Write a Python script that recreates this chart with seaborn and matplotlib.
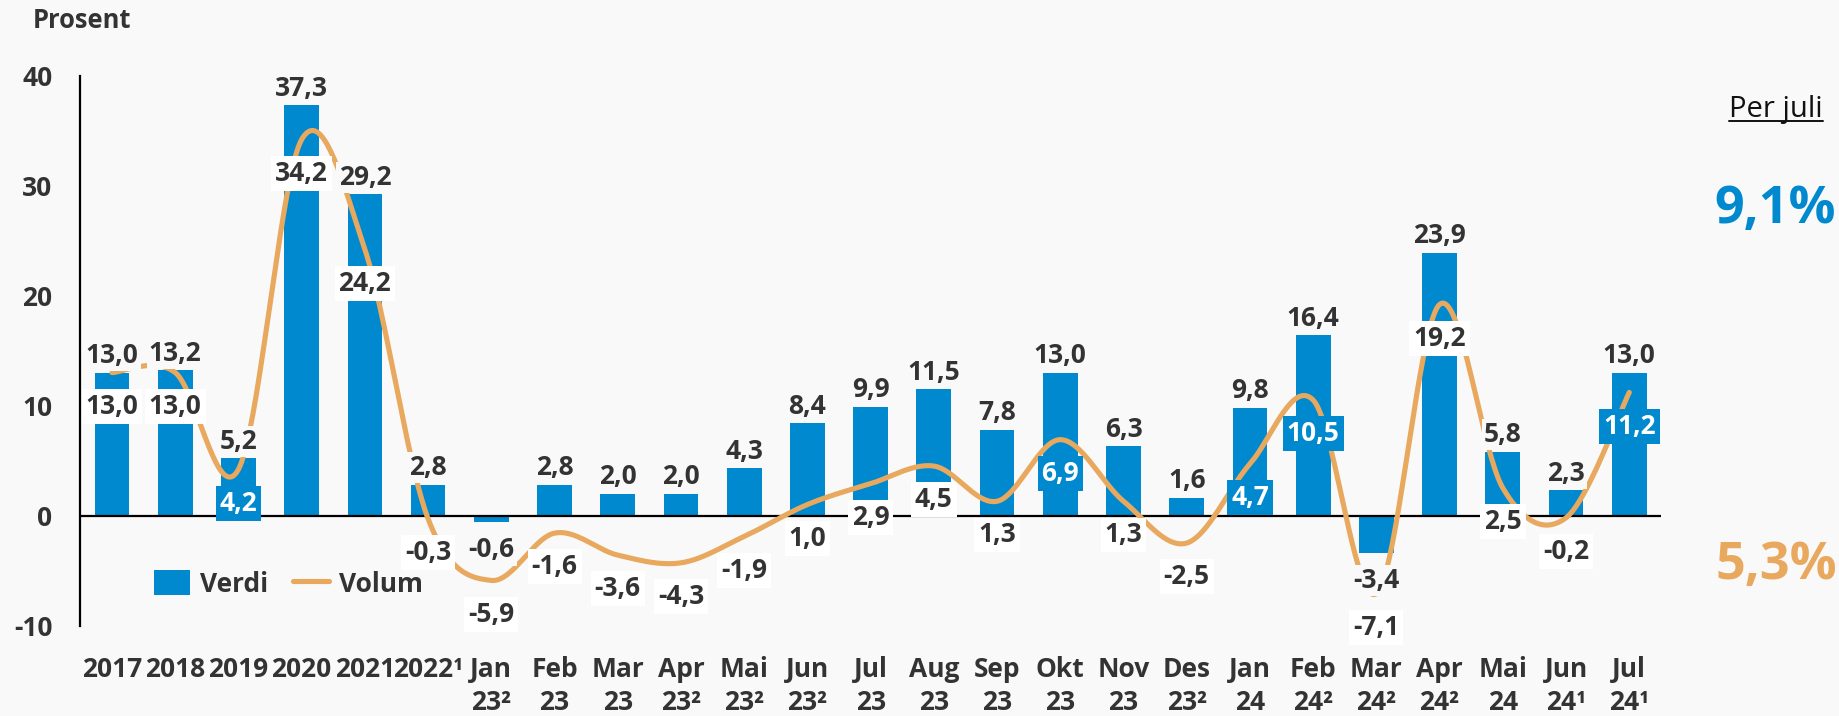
import numpy as np
import pandas as pd
import matplotlib
matplotlib.use("Agg")
import matplotlib.pyplot as plt
import seaborn as sns
from matplotlib.lines import Line2D
from matplotlib.patches import Patch

# ---------------- data ----------------
categories = ["2017", "2018", "2019", "2020", "2021", "2022¹",
              "Jan\n23²", "Feb\n23", "Mar\n23", "Apr\n23²", "Mai\n23²", "Jun\n23²",
              "Jul\n23", "Aug\n23", "Sep\n23", "Okt\n23", "Nov\n23", "Des\n23²",
              "Jan\n24", "Feb\n24²", "Mar\n24²", "Apr\n24²", "Mai\n24", "Jun\n24¹", "Jul\n24¹"]
verdi = [13.0, 13.2, 5.2, 37.3, 29.2, 2.8, -0.6, 2.8, 2.0, 2.0, 4.3, 8.4, 9.9,
         11.5, 7.8, 13.0, 6.3, 1.6, 9.8, 16.4, -3.4, 23.9, 5.8, 2.3, 13.0]
volum = [13.0, 13.0, 4.2, 34.2, 24.2, -0.3, -5.9, -1.6, -3.6, -4.3, -1.9, 1.0, 2.9,
         4.5, 1.3, 6.9, 1.3, -2.5, 4.7, 10.5, -7.1, 19.2, 2.5, -0.2, 11.2]
series_names = ["Verdi", "Volum"]
y_ticks = [-10, 0, 10, 20, 30, 40]
unit_label = "Prosent"
side_title = "Per juli"
side_verdi = "9,1%"
side_volum = "5,3%"
# volume labels drawn on a blue box (they sit on top of a bar)
highlight_volum = ["2019", "Okt\n23", "Jan\n24", "Feb\n24²", "Jul\n24¹"]

# ---------------- style ----------------
BLUE = "#0089CF"
ORANGE = "#E8A85E"
BG = "#F9F9F9"
TXT = "#333333"
FONT = ["Open Sans", "DejaVu Sans"]
FS = 19

sns.set_style("white")
plt.rcParams["font.family"] = FONT
plt.rcParams["axes.unicode_minus"] = False

W, H = 1839, 716
fig = plt.figure(figsize=(W / 100, H / 100), dpi=100, facecolor=BG)
ax = fig.add_axes([80.4 / W, 1 - 625.5 / H, (1660.9 - 80.4) / W, (625.5 - 75.7) / H])
ax.set_facecolor(BG)

df = pd.DataFrame({"kategori": categories, "verdi": verdi, "volum": volum})

sns.barplot(data=df, x="kategori", y="verdi", order=categories, color=BLUE,
            saturation=1, width=0.55, linewidth=0, ax=ax, zorder=1)

ax.axhline(0, color="black", lw=1.6, zorder=2)


def fmt(v):
    return f"{v:.1f}".replace(".", ",")


# smooth (Excel-like) curve through the volume points
def smooth(xv, yv, n=40):
    P = np.column_stack([xv, yv]).astype(float)
    out = []
    for i in range(len(P) - 1):
        p0 = P[i - 1] if i > 0 else P[i]
        p1, p2 = P[i], P[i + 1]
        p3 = P[i + 2] if i + 2 < len(P) else P[i + 1]
        c1 = p1 + (p2 - p0) / 6
        c2 = p2 - (p3 - p1) / 6
        t = np.linspace(0, 1, n)[:, None]
        seg = ((1 - t) ** 3) * p1 + 3 * ((1 - t) ** 2) * t * c1 + 3 * (1 - t) * t ** 2 * c2 + t ** 3 * p2
        out.append(seg if i == 0 else seg[1:])
    return np.vstack(out)


curve = smooth(np.arange(len(volum)), volum)
ax.plot(curve[:, 0], curve[:, 1], color=ORANGE, lw=3.7, zorder=3,
        solid_capstyle="round")

for i, (c, v, w) in enumerate(zip(categories, verdi, volum)):
    off = 6.9 if v >= 0 else -25.4
    ax.annotate(fmt(v), xy=(i, v), xytext=(0, off), textcoords="offset points",
                ha="center", va="baseline", fontsize=FS, fontweight="bold",
                color=TXT, zorder=6,
                bbox=dict(boxstyle="square,pad=0.08", fc=BG, ec="none"))
    hl = c in highlight_volum
    ax.annotate(fmt(w), xy=(i, w), xytext=(0, -29.7), textcoords="offset points",
                ha="center", va="baseline", fontsize=FS, fontweight="bold",
                color="white" if hl else TXT, zorder=6,
                bbox=dict(boxstyle="square,pad=0.15", fc=BLUE if hl else "white",
                          ec="none"))

ax.set_xlim(-0.5, len(categories) - 0.5)
ax.set_ylim(-10, 40)
ax.set_yticks(y_ticks)
ax.set_xlabel("")
ax.set_ylabel("")
for s in ["top", "right", "bottom"]:
    ax.spines[s].set_visible(False)
ax.spines["left"].set_color("black")
ax.spines["left"].set_linewidth(1.6)
ax.tick_params(axis="y", direction="out", length=6.7, width=1.5, color="black",
               labelsize=FS, pad=13.5, labelcolor=TXT)
ax.tick_params(axis="x", length=0, pad=22, labelsize=FS, labelcolor=TXT)
for t in ax.get_yticklabels() + ax.get_xticklabels():
    t.set_fontweight("bold")
for t in ax.get_xticklabels():
    t.set_linespacing(1.28)

# legend
handles = [Patch(facecolor=BLUE, edgecolor="none", label=series_names[0]),
           Line2D([0], [0], color=ORANGE, lw=3.7, label=series_names[1])]
fig.legend(handles=handles, loc="center left", bbox_to_anchor=(154 / W, 1 - 584 / H),
           ncol=2, frameon=False, prop={"size": FS, "weight": "bold"},
           handlelength=1.36, handleheight=1.06, handletextpad=0.38,
           columnspacing=0.95, borderpad=0, borderaxespad=0, labelcolor=TXT)

# texts
fig.text(33 / W, 1 - 27.5 / H, unit_label, ha="left", va="baseline",
         fontsize=18.4, fontweight="bold", color=TXT)
pj = fig.text(1823 / W, 1 - 117 / H, side_title, ha="right", va="baseline",
              fontsize=21, color="#111111")
fig.text(1775 / W, 1 - 223 / H, side_verdi, ha="center", va="baseline",
         fontsize=37.5, fontweight="bold", color=BLUE)
fig.text(1776 / W, 1 - 579 / H, side_volum, ha="center", va="baseline",
         fontsize=37.5, fontweight="bold", color=ORANGE)

fig.canvas.draw()
bb = pj.get_window_extent()
yu = 1 - 121 / H
fig.add_artist(Line2D([bb.x0 / W, bb.x1 / W], [yu, yu], transform=fig.transFigure,
                      color="#111111", lw=1.4))

fig.savefig("out.png", dpi=100, facecolor=BG)
